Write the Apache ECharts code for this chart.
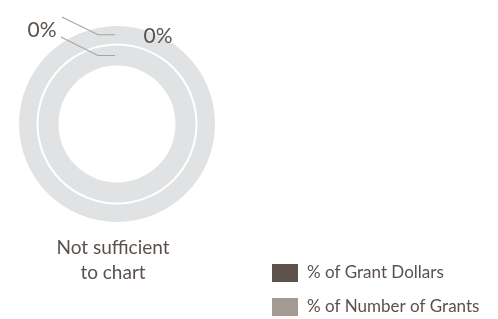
<!DOCTYPE html>
<html>
<head>
<meta charset="utf-8">
<script src="https://cdn.jsdelivr.net/npm/echarts@6/dist/echarts.min.js"></script>
<style>
  html, body { margin: 0; padding: 0; background: #fff; }
  #main { width: 498px; height: 319px; }
</style>
</head>
<body>
<div id="main"></div>
<script>
// data
const ringNames = ['% of Grant Dollars', '% of Number of Grants'];
const ringValues = [0, 0];
const ringColors = ['#5e524c', '#a39a94'];
const centerNote = 'Not sufficient\nto chart';

const textColor = '#5b514c';
const emptyColor = '#e1e2e3';
const cx = 117, cy = 124;
const radii = [[80.5, 98], [58.5, 78.5]];
// where each label sits, relative to the center
const labelPos = [[41, -88], [-75, -94]];
const lineEnd = [[-55, -107], [-56, -87]];

var myChart = echarts.init(document.getElementById('main'));

// grey placeholder rings (nothing to chart)
const placeholders = radii.map(function (r) {
    return {
        type: 'pie',
        z: 1,
        center: [cx, cy],
        radius: r,
        silent: true,
        showEmptyCircle: true,
        emptyCircleStyle: { color: emptyColor },
        label: { show: false },
        data: []
    };
});

const series = ringNames.map(function (name, i) {
    const rm = (radii[i][0] + radii[i][1]) / 2;
    return {
        name: name,
        type: 'pie',
        z: 3,
        center: [cx, cy],
        radius: radii[i],
        startAngle: 90,
        silent: true,
        avoidLabelOverlap: false,
        stillShowZeroSum: false,
        showEmptyCircle: false,
        itemStyle: { color: ringColors[i] },
        label: {
            show: true,
            formatter: function (p) { return p.value + '%'; },
            fontFamily: 'Lato',
            fontSize: 21,
            color: textColor
        },
        labelLine: {
            show: true,
            showAbove: true,
            lineStyle: { color: '#a5a5a5', width: 1.2 }
        },
        labelLayout: function () {
            return {
                x: cx + labelPos[i][0],
                y: cy + labelPos[i][1],
                align: 'center',
                verticalAlign: 'middle',
                labelLinePoints: [
                    [cx - 2, cy - rm],
                    [cx - 19, cy - rm],
                    [cx + lineEnd[i][0], cy + lineEnd[i][1]]
                ]
            };
        },
        data: [{ name: name, value: ringValues[i] }]
    };
});

myChart.setOption({
    animation: false,
    title: {
        text: centerNote,
        left: 113,
        top: 235,
        padding: 0,
        textAlign: 'center',
        textStyle: {
            fontFamily: 'Lato',
            fontWeight: 'normal',
            fontSize: 19,
            lineHeight: 25,
            color: textColor
        }
    },
    legend: {
        orient: 'vertical',
        left: 272,
        top: 264,
        padding: 0,
        itemWidth: 26,
        itemHeight: 18,
        itemGap: 16,
        icon: 'rect',
        textStyle: { fontFamily: 'Lato', fontSize: 17, color: textColor, padding: [0, 0, 0, 4] },
        data: ringNames.map(function (n, i) {
            return { name: n, itemStyle: { color: ringColors[i] } };
        })
    },
    series: placeholders.concat(series)
});
</script>
</body>
</html>
